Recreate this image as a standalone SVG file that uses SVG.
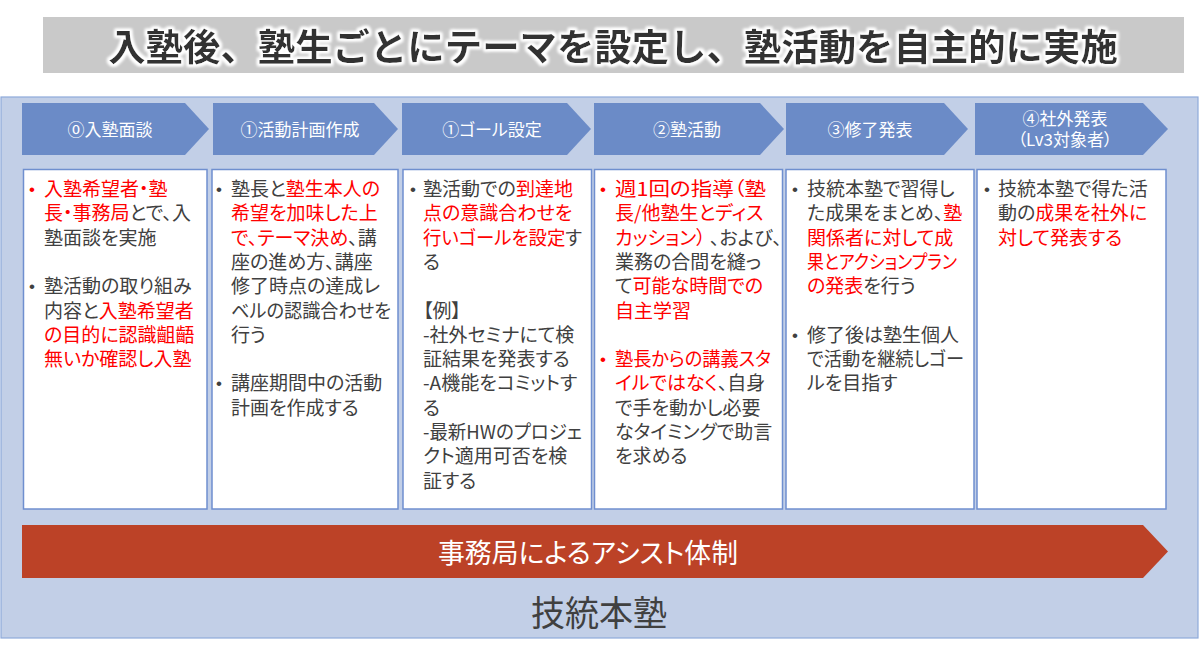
<svg xmlns="http://www.w3.org/2000/svg" width="1200" height="654" viewBox="0 0 1200 654">
<defs>
<style>
.title{font-family:"Noto Sans CJK JP","Noto Sans CJK SC",sans-serif;font-size:37.4px;font-weight:bold;fill:#333333;}
.step{fill:#6b8bc7;}
.stxt{font-family:"Noto Sans CJK JP",sans-serif;font-size:17px;fill:#ffffff;text-anchor:middle;font-feature-settings:"palt" 1;}
.box{fill:#ffffff;stroke:#6f8fcf;stroke-width:1.5;}
.t{font-family:"Noto Sans CJK JP",sans-serif;font-size:19px;fill:#404040;font-feature-settings:"palt" 1;}
.r{fill:#ff0000;}
.b{font-family:"Liberation Sans",sans-serif;font-size:17px;fill:#404040;text-anchor:middle;}
.br{fill:#ff0000;}
</style>
<filter id="glow" x="-5%" y="-30%" width="110%" height="160%">
<feMorphology in="SourceAlpha" operator="dilate" radius="2.2" result="d"/>
<feGaussianBlur in="d" stdDeviation="1.6" result="bl"/>
<feFlood flood-color="#ffffff"/>
<feComposite in2="bl" operator="in" result="w"/>
<feMerge><feMergeNode in="w"/><feMergeNode in="w"/><feMergeNode in="SourceGraphic"/></feMerge>
</filter>
</defs>
<rect width="1200" height="654" fill="#ffffff"/>
<g id="title">
<rect x="43" y="17" width="1141" height="56" fill="#c9c9c9"/>
<text class="title" x="613" y="61" text-anchor="middle" filter="url(#glow)">入塾後、塾生ごとにテーマを設定し、塾活動を自主的に実施</text>
</g>
<g id="panel">
<rect x="1" y="97" width="1197" height="541" fill="#c2cfe7" stroke="#8eaadb" stroke-width="1.2"/>
</g>
<g id="connectors"></g>
<g id="step0">
<path class="step" d="M22,103 H185 L209,129 L185,155 H22 Z"/>
<text class="stxt" x="110" y="136">⓪入塾面談</text>
</g>
<g id="step1">
<path class="step" d="M213,103 H374 L398,129 L374,155 H213 Z"/>
<text class="stxt" x="300" y="136">①活動計画作成</text>
</g>
<g id="step2">
<path class="step" d="M402,103 H567 L591,129 L567,155 H402 Z"/>
<text class="stxt" x="492" y="136">①ゴール設定</text>
</g>
<g id="step3">
<path class="step" d="M594,103 H760 L784,129 L760,155 H594 Z"/>
<text class="stxt" x="687" y="136">②塾活動</text>
</g>
<g id="step4">
<path class="step" d="M786,103 H944 L968,129 L944,155 H786 Z"/>
<text class="stxt" x="870" y="136">③修了発表</text>
</g>
<g id="step5">
<path class="step" d="M975,103 H1143 L1168,129 L1143,155 H975 Z"/>
<text class="stxt"><tspan x="1065" y="125">④社外発表</tspan><tspan x="1065" y="146">（Lv3対象者）</tspan></text>
</g>
<g id="box0">
<rect class="box" x="23.5" y="169.5" width="183.5" height="339.5"/>
<text class="b br" x="32" y="195">•</text>
<text class="t"><tspan x="44" y="196" class="r">入塾希望者・塾</tspan><tspan x="44" y="220.3"><tspan class="r">長・事務局</tspan>とで、入</tspan><tspan x="44" y="244.6">塾面談を実施</tspan></text>
<text class="b" x="32" y="292">•</text>
<text class="t"><tspan x="44" y="293.2">塾活動の取り組み</tspan><tspan x="44" y="317.5">内容と<tspan class="r">入塾希望者</tspan></tspan><tspan x="44" y="341.8" class="r">の目的に認識齟齬</tspan><tspan x="44" y="366.1" class="r">無いか確認し入塾</tspan></text>
</g>
<g id="box1">
<rect class="box" x="212" y="169.5" width="186" height="339.5"/>
<text class="b" x="219" y="195">•</text>
<text class="t"><tspan x="231" y="196">塾長と<tspan class="r">塾生本人の</tspan></tspan><tspan x="231" y="220.3" class="r">希望を加味した上</tspan><tspan x="231" y="244.6"><tspan class="r">で、テーマ決め</tspan>、講</tspan><tspan x="231" y="268.9">座の進め方、講座</tspan><tspan x="231" y="293.2">修了時点の達成レ</tspan><tspan x="231" y="317.5" textLength="160" lengthAdjust="spacingAndGlyphs">ベルの認識合わせを</tspan><tspan x="231" y="341.8">行う</tspan></text>
<text class="b" x="219" y="389">•</text>
<text class="t"><tspan x="231" y="390.4">講座期間中の活動</tspan><tspan x="231" y="414.7">計画を作成する</tspan></text>
</g>
<g id="box2">
<rect class="box" x="403" y="169.5" width="188.5" height="339.5"/>
<text class="b" x="413" y="195">•</text>
<text class="t"><tspan x="423" y="196">塾活動での<tspan class="r">到達地</tspan></tspan><tspan x="423" y="220.3" class="r">点の意識合わせを</tspan><tspan x="423" y="244.6" textLength="159" lengthAdjust="spacingAndGlyphs"><tspan class="r">行いゴールを設定</tspan>す</tspan><tspan x="423" y="268.9">る</tspan></text>
<text class="t"><tspan x="423" y="317.5">【例】</tspan><tspan x="423" y="341.8">-社外セミナにて検</tspan><tspan x="423" y="366.1">証結果を発表する</tspan><tspan x="423" y="390.4">-A機能をコミットす</tspan><tspan x="423" y="414.7">る</tspan><tspan x="423" y="439" textLength="159" lengthAdjust="spacingAndGlyphs">-最新HWのプロジェ</tspan><tspan x="423" y="463.3">クト適用可否を検</tspan><tspan x="423" y="487.6">証する</tspan></text>
</g>
<g id="box3">
<rect class="box" x="594.5" y="169.5" width="188" height="339.5"/>
<text class="b br" x="603" y="195">•</text>
<text class="t"><tspan x="615" y="196" class="r" textLength="151" lengthAdjust="spacingAndGlyphs">週1回の指導（塾</tspan><tspan x="615" y="220.3" class="r">長/他塾生とディス</tspan><tspan x="615" y="244.6"><tspan class="r">カッション）</tspan> 、および、</tspan><tspan x="615" y="268.9">業務の合間を縫っ</tspan><tspan x="615" y="293.2">て<tspan class="r">可能な時間での</tspan></tspan><tspan x="615" y="317.5" class="r">自主学習</tspan></text>
<text class="b br" x="603" y="365">•</text>
<text class="t"><tspan x="615" y="366.1" class="r" textLength="156" lengthAdjust="spacingAndGlyphs">塾長からの講義スタ</tspan><tspan x="615" y="390.4"><tspan class="r">イルではなく</tspan>、自身</tspan><tspan x="615" y="414.7">で手を動かし必要</tspan><tspan x="615" y="439">なタイミングで助言</tspan><tspan x="615" y="463.3">を求める</tspan></text>
</g>
<g id="box4">
<rect class="box" x="786" y="169.5" width="188" height="339.5"/>
<text class="b" x="795" y="195">•</text>
<text class="t"><tspan x="807" y="196">技統本塾で習得し</tspan><tspan x="807" y="220.3">た成果をまとめ、<tspan class="r">塾</tspan></tspan><tspan x="807" y="244.6" class="r">関係者に対して成</tspan><tspan x="807" y="268.9" class="r" textLength="150" lengthAdjust="spacingAndGlyphs">果とアクションプラン</tspan><tspan x="807" y="293.2"><tspan class="r">の発表</tspan>を行う</tspan></text>
<text class="b" x="795" y="341">•</text>
<text class="t"><tspan x="807" y="341.8">修了後は塾生個人</tspan><tspan x="807" y="366.1" textLength="157" lengthAdjust="spacingAndGlyphs">で活動を継続しゴー</tspan><tspan x="807" y="390.4">ルを目指す</tspan></text>
</g>
<g id="box5">
<rect class="box" x="977" y="169.5" width="189" height="339.5"/>
<text class="b" x="987" y="195">•</text>
<text class="t"><tspan x="998" y="196">技統本塾で得た活</tspan><tspan x="998" y="220.3">動の<tspan class="r">成果を社外に</tspan></tspan><tspan x="998" y="244.6" class="r">対して発表する</tspan></text>
</g>
<g id="assist">
<path d="M22,525 H1143 L1168,551.5 L1143,578 H22 Z" fill="#bc4227"/>
<text x="588" y="563" text-anchor="middle" font-family="Noto Sans CJK JP, sans-serif" font-size="27" fill="#ffffff" style="font-feature-settings:'palt' 1" textLength="300" lengthAdjust="spacingAndGlyphs">事務局によるアシスト体制</text>
</g>
<g id="footer">
<text x="599" y="626" text-anchor="middle" font-family="Noto Sans CJK JP, sans-serif" font-size="35" fill="#404040" textLength="136" lengthAdjust="spacingAndGlyphs">技統本塾</text>
</g>
</svg>
